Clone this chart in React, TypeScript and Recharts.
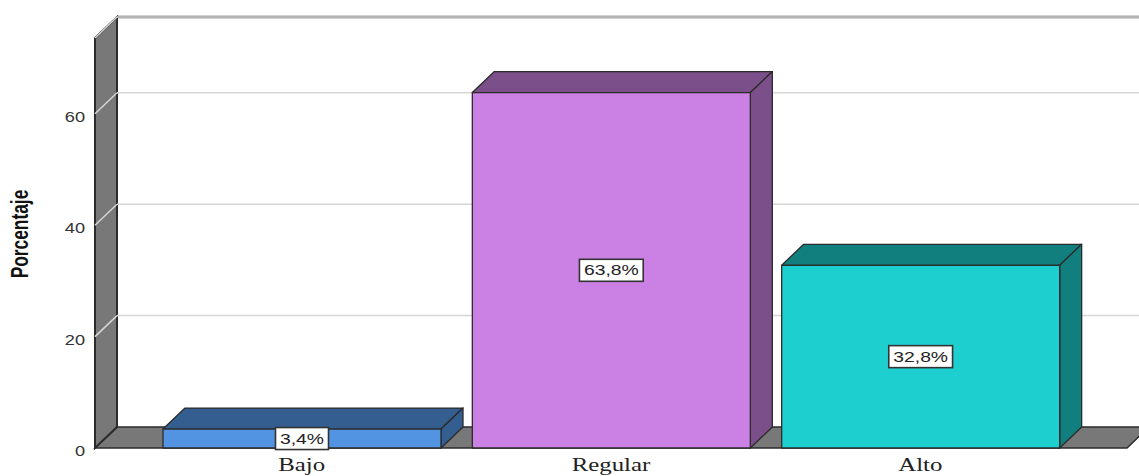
import React from 'react'
import { BarChart, Bar, XAxis, YAxis, CartesianGrid, LabelList } from 'recharts'

const categories = ['Bajo', 'Regular', 'Alto']
const percentages = [3.4, 63.8, 32.8]
const valueLabels = ['3,4%', '63,8%', '32,8%']
const yTicks = [0, 20, 40, 60]

const frontColors = ['#5294e2', '#cb80e4', '#1dcfcf']
const sideColors = ['#335e8f', '#7b4f8a', '#127f7f']

const data = categories.map((name, i) => ({
  name,
  value: percentages[i],
  label: valueLabels[i],
  idx: i
}))

// layout of the front plane
const W = 1139
const H = 476
const LEFT = 95
const RIGHT = 1127
const TOP = 38
const BOTTOM = 448
const DX = 22
const DY = 21
const STRETCH = 1.38

const wall = '#787878'
const edge = '#2b2b2b'

const charW = (s: string) =>
  s.split('').reduce((a, c) => a + (c === ',' ? 0.278 : c === '%' ? 0.889 : 0.556), 0)

const Bar3D = (props: any) => {
  const { x, y, width, height, payload } = props
  const i = payload.idx
  const f = frontColors[i]
  const s = sideColors[i]
  const b = y + height
  return (
    <g stroke={edge} strokeWidth={1.3} strokeLinejoin="round">
      <polygon
        points={`${x},${y} ${x + width},${y} ${x + width + DX},${y - DY} ${x + DX},${y - DY}`}
        fill={s}
      />
      <polygon
        points={`${x + width},${y} ${x + width + DX},${y - DY} ${x + width + DX},${b - DY} ${x + width},${b}`}
        fill={s}
      />
      <rect x={x} y={y} width={width} height={height} fill={f} />
    </g>
  )
}

const ValueBox = (props: any) => {
  const { x, y, width, height, value } = props
  const cx = x + width / 2
  const cy = y + height / 2
  const tw = charW(String(value)) * 14 * STRETCH
  const bw = tw + 9
  const bh = 22
  return (
    <g>
      <rect x={cx - bw / 2} y={cy - bh / 2} width={bw} height={bh} fill="#ffffff" stroke="#333" strokeWidth={1.6} />
      <text
        transform={`translate(${cx},${cy + 5}) scale(${STRETCH},1)`}
        textAnchor="middle"
        fontFamily="Liberation Sans, Arial, sans-serif"
        fontSize={14}
        fill="#222"
      >
        {value}
      </text>
    </g>
  )
}

const YTick = (props: any) => {
  const { x, y, payload } = props
  return (
    <text
      transform={`translate(${x},${y + 8}) scale(1.3,1)`}
      textAnchor="end"
      fontFamily="Liberation Sans, Arial, sans-serif"
      fontSize={14}
      fill="#333"
    >
      {payload.value}
    </text>
  )
}

const XTick = (props: any) => {
  const { x, y, payload } = props
  return (
    <text
      transform={`translate(${x},${y + 23}) scale(${STRETCH},1)`}
      textAnchor="middle"
      fontFamily="Liberation Serif, Times New Roman, serif"
      fontSize={18}
      fill="#222"
    >
      {payload.value}
    </text>
  )
}

const gridLine = (props: any) => {
  const { x1, x2, y1, index } = props
  if (y1 >= BOTTOM - 1) return <g key={`g${index}`} />
  return (
    <g key={`g${index}`} stroke="#d6d6d6" strokeWidth={1.5}>
      <line x1={x1 + DX} y1={y1 - DY} x2={x2 + DX + 20} y2={y1 - DY} />
      <line x1={x1} y1={y1} x2={x1 + DX} y2={y1 - DY} />
    </g>
  )
}

const Frame = () => (
  <svg width={W} height={H} style={{ position: 'absolute', left: 0, top: 0 }}>
    <rect x={0} y={0} width={W} height={H} fill="#ffffff" />
    <line x1={LEFT + DX} y1={TOP - DY} x2={W} y2={TOP - DY} stroke="#4a4a4a" strokeWidth={2.5} />
    <polygon
      points={`${LEFT},${BOTTOM} ${RIGHT},${BOTTOM} ${RIGHT + DX},${BOTTOM - DY} ${LEFT + DX},${BOTTOM - DY}`}
      fill={wall}
      stroke={edge}
      strokeWidth={1.5}
    />
    <polygon
      points={`${LEFT},${BOTTOM} ${LEFT},${TOP} ${LEFT + DX},${TOP - DY} ${LEFT + DX},${BOTTOM - DY}`}
      fill={wall}
      stroke={edge}
      strokeWidth={2}
    />
    <text
      transform={`translate(28,234) rotate(-90) scale(1.02,${STRETCH})`}
      textAnchor="middle"
      fontFamily="Liberation Sans, Arial, sans-serif"
      fontWeight="bold"
      fontSize={17}
      fill="#111"
    >
      Porcentaje
    </text>
  </svg>
)

export default function App() {
  return (
    <div style={{ position: 'absolute', left: 0, top: 0, width: W, height: H, overflow: 'hidden' }}>
      <Frame />
      <div style={{ position: 'absolute', left: 0, top: 0 }}>
        <BarChart
          width={W}
          height={H}
          data={data}
          margin={{ top: TOP, right: W - RIGHT, bottom: 0, left: LEFT - 60 }}
        >
          <CartesianGrid vertical={false} horizontal={gridLine} />
          <XAxis
            dataKey="name"
            height={H - BOTTOM}
            padding={{ left: 52, right: 52 }}
            axisLine={false}
            tickLine={false}
            tickSize={0}
            tickMargin={0}
            tick={<XTick />}
            interval={0}
          />
          <YAxis
            width={60}
            domain={[0, 73.6]}
            ticks={yTicks}
            axisLine={false}
            tickLine={false}
            tickSize={0}
            tickMargin={10}
            tick={<YTick />}
          />
          <Bar dataKey="value" barSize={278} shape={<Bar3D />} isAnimationActive={false}>
            <LabelList dataKey="label" content={<ValueBox />} />
          </Bar>
        </BarChart>
      </div>
    </div>
  )
}
